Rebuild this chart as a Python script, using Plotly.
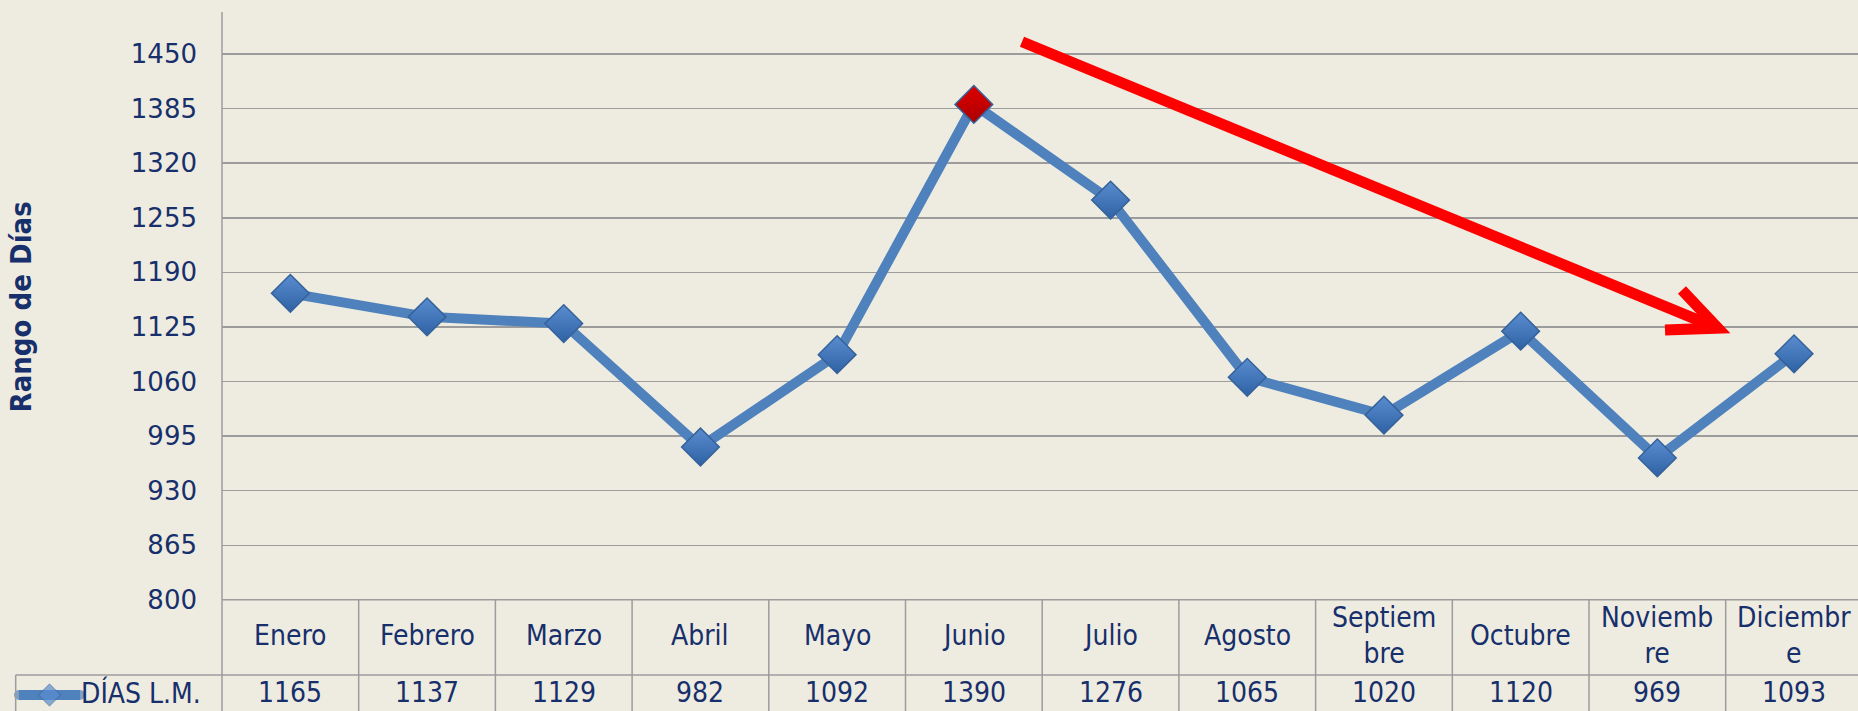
import plotly.graph_objects as go

# ---------------- data ----------------
months = ["Enero", "Febrero", "Marzo", "Abril", "Mayo", "Junio", "Julio",
          "Agosto", "Septiembre", "Octubre", "Noviembre", "Diciembre"]
header_labels = ["Enero", "Febrero", "Marzo", "Abril", "Mayo", "Junio", "Julio",
                 "Agosto", "Septiem<br>bre", "Octubre", "Noviemb<br>re", "Diciembr<br>e"]
dias_lm = [1165, 1137, 1129, 982, 1092, 1390, 1276, 1065, 1020, 1120, 969, 1093]
series_name = "DÍAS L.M."
y_ticks = [800, 865, 930, 995, 1060, 1125, 1190, 1255, 1320, 1385, 1450]
y_title = "Rango de Días"
# trend arrow (category index, value)
arrow_shaft = [(5.352, 1464.6), (10.37, 1128.3)]
arrow_head = [(10.18, 1168.9), (10.444, 1123.6), (10.056, 1121.2)]

# ---------------- style ----------------
W, H = 1858, 711          # reference geometry
H_PAGE = 727              # height actually captured by the photographer
BG = "#EEECE1"
NAVY = "#172F6B"
GRID = "#9C9C9C"
BLUE = "#4F81BD"
TABLE_FONT = "DejaVu Sans Condensed, DejaVu Sans, sans-serif"
TICK_FONT = "DejaVu Sans, Verdana, sans-serif"

plot_left, plot_top, plot_bottom = 222, 12, 599
col_w = 136.7
x_range = [-0.5, -0.5 + (W - plot_left) / col_w]
y_range = [800, 1500]


def py(p):
    return 1 - p / H


def pxp(p):
    return p / W


hi = dias_lm.index(max(dias_lm))
fill_colors = ["#E00000" if i == hi else "#5A8DCF" for i in range(len(dias_lm))]
grad_colors = ["#A80000" if i == hi else "#2F62A5" for i in range(len(dias_lm))]

fig = go.Figure()
fig.add_trace(go.Scatter(
    x=months, y=dias_lm, mode="lines+markers", name=series_name,
    line=dict(color=BLUE, width=10),
    marker=dict(symbol="diamond", size=29, color=fill_colors,
                gradient=dict(type="vertical", color=grad_colors),
                line=dict(color="#35629A", width=1.5)),
    cliponaxis=False, showlegend=False,
))

# legend key inside the table cell
fig.add_trace(go.Scatter(
    x=[0, 1, 2], y=[0, 0, 0], mode="lines+markers", xaxis="x2", yaxis="y2",
    line=dict(color=BLUE, width=10),
    marker=dict(symbol=["circle", "diamond", "circle"], size=[10, 17, 10],
                color=[BLUE, "#5A8DCF", BLUE],
                line=dict(color=["rgba(0,0,0,0)", "#35629A", "rgba(0,0,0,0)"], width=1)),
    cliponaxis=False, showlegend=False,
))

shapes = []
line_style = dict(color=GRID, width=1.5)
shapes.append(dict(type="line", xref="paper", yref="paper",
                   x0=pxp(plot_left), x1=pxp(plot_left), y0=py(plot_top), y1=py(H),
                   line=line_style))
shapes.append(dict(type="line", xref="paper", yref="paper",
                   x0=pxp(plot_left), x1=1, y0=py(plot_bottom), y1=py(plot_bottom),
                   line=line_style))
shapes.append(dict(type="line", xref="paper", yref="paper",
                   x0=pxp(15.7), x1=1, y0=py(674), y1=py(674), line=line_style))
shapes.append(dict(type="line", xref="paper", yref="paper",
                   x0=pxp(15.7), x1=pxp(15.7), y0=py(674), y1=py(H), line=line_style))
for i in range(len(months)):
    shapes.append(dict(type="line", xref="x", yref="paper",
                       x0=i + 0.5, x1=i + 0.5, y0=py(plot_bottom), y1=py(H),
                       line=line_style))

shaft_path = "M{},{} L{},{}".format(*arrow_shaft[0], *arrow_shaft[1])
head_path = "M{},{} L{},{} L{},{}".format(*arrow_head[0], *arrow_head[1], *arrow_head[2])
for p in (shaft_path, head_path):
    shapes.append(dict(type="path", xref="x", yref="y", path=p,
                       line=dict(color="#FF0000", width=11)))

annotations = []
for i, lab in enumerate(header_labels):
    annotations.append(dict(x=i, xref="x", y=py(635), yref="paper", text=lab,
                            showarrow=False, xanchor="center", yanchor="middle",
                            font=dict(family=TABLE_FONT, size=28, color=NAVY)))
for i, v in enumerate(dias_lm):
    annotations.append(dict(x=i, xref="x", y=py(692), yref="paper", text=str(v),
                            showarrow=False, xanchor="center", yanchor="middle",
                            font=dict(family=TABLE_FONT, size=28, color=NAVY)))
annotations.append(dict(x=pxp(79), xref="paper", y=py(692), yref="paper", text=series_name,
                        showarrow=False, xanchor="left", yanchor="middle",
                        font=dict(family=TABLE_FONT, size=28, color=NAVY)))
annotations.append(dict(x=pxp(21), xref="paper", y=py(307), yref="paper", text=y_title,
                        textangle=-90, showarrow=False, xanchor="center", yanchor="middle",
                        font=dict(family="DejaVu Sans Condensed, DejaVu Sans, sans-serif",
                                  size=29, color=NAVY, weight="bold")))

fig.update_layout(
    width=W, height=H_PAGE,
    margin=dict(l=0, r=0, t=0, b=0),
    paper_bgcolor=BG, plot_bgcolor=BG,
    xaxis=dict(domain=[pxp(plot_left), 1], range=x_range, type="category",
               showgrid=False, zeroline=False, showline=False,
               showticklabels=False, fixedrange=True),
    yaxis=dict(domain=[py(plot_bottom), py(plot_top)], range=y_range,
               tickvals=y_ticks, showgrid=True, gridcolor=GRID, gridwidth=1.5,
               zeroline=False, showline=False, ticks="",
               ticklabelstandoff=24,
               tickfont=dict(family=TICK_FONT, size=26, color=NAVY)),
    xaxis2=dict(domain=[pxp(19), pxp(80)], range=[0, 2], visible=False,
                anchor="y2", fixedrange=True),
    yaxis2=dict(domain=[py(704), py(684)], range=[-1, 1], visible=False,
                anchor="x2", fixedrange=True),
    shapes=shapes,
    annotations=annotations,
    showlegend=False,
)

post = (
    "var gd=document.getElementById('{plot_id}');"
    "document.body.style.margin='0';"
    "document.body.style.background='%s';"
    "gd.style.position='absolute';gd.style.left='0px';gd.style.top='0px';" % BG
)

fig.write_html(
    "out.html",
    config={"displayModeBar": False, "staticPlot": True},
    post_script=post,
)
